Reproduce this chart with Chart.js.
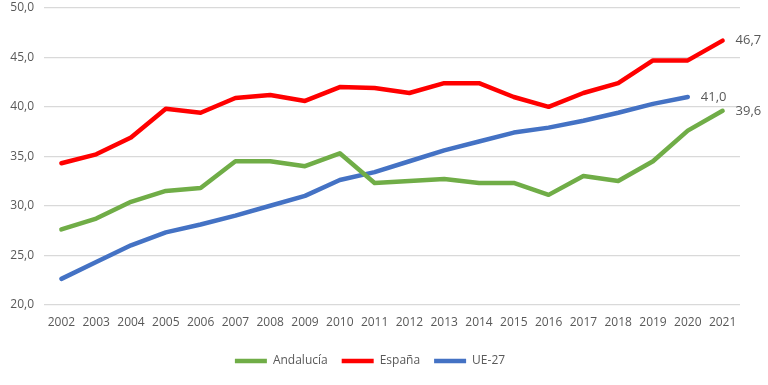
<!DOCTYPE html>
<html>
<head>
<meta charset="utf-8">
<script src="https://cdn.jsdelivr.net/npm/chart.js@4"></script>
<style>
    html, body { margin: 0; padding: 0; background: #ffffff; }
    #wrap { width: 768px; height: 385px; }
</style>
</head>
<body>
<div id="wrap"><canvas id="chart"></canvas></div>
<script>
// Years on the x axis
const years = ["2002", "2003", "2004", "2005", "2006", "2007", "2008", "2009", "2010", "2011",
    "2012", "2013", "2014", "2015", "2016", "2017", "2018", "2019", "2020", "2021"];

// Series values
const andalucia = [27.6, 28.7, 30.4, 31.5, 31.8, 34.5, 34.5, 34.0, 35.3, 32.3,
    32.5, 32.7, 32.3, 32.3, 31.1, 33.0, 32.5, 34.5, 37.6, 39.6];
const espana = [34.3, 35.2, 36.9, 39.8, 39.4, 40.9, 41.2, 40.6, 42.0, 41.9,
    41.4, 42.4, 42.4, 41.0, 40.0, 41.4, 42.4, 44.7, 44.7, 46.7];
const ue27 = [22.6, 24.3, 26.0, 27.3, 28.1, 29.0, 30.0, 31.0, 32.6, 33.4,
    34.5, 35.6, 36.5, 37.4, 37.9, 38.6, 39.4, 40.3, 41.0, null];

// Axis range
const y_min = 20;
const y_max = 50;
const y_step = 5;

const text_colour = "#595959";
const font_family = "'Open Sans', 'Liberation Sans', sans-serif";

// Format numbers the Spanish way: 46,7
function fmt(v) {
    return v.toFixed(1).replace(".", ",");
}

// Writes the value next to the last point of each line
const end_labels = {
    id: "end_labels",
    afterDatasetsDraw(chart) {
        const ctx = chart.ctx;
        ctx.save();
        ctx.font = "13px " + font_family;
        ctx.fillStyle = text_colour;
        ctx.textAlign = "left";
        ctx.textBaseline = "middle";
        chart.data.datasets.forEach((ds, i) => {
            let last = ds.data.length - 1;
            while (last >= 0 && ds.data[last] === null) last--;
            const pt = chart.getDatasetMeta(i).data[last];
            ctx.fillText(fmt(ds.data[last]), pt.x + 13, pt.y);
        });
        ctx.restore();
    }
};

function line_set(label, values, colour) {
    return {
        label: label,
        data: values,
        borderColor: colour,
        backgroundColor: colour,
        borderWidth: 4.5,
        borderCapStyle: "round",
        borderJoinStyle: "round",
        pointRadius: 0,
        pointHoverRadius: 0,
        tension: 0,
        fill: false
    };
}

const config = {
    type: "line",
    data: {
        labels: years,
        datasets: [
            line_set("Andalucía", andalucia, "#70AD47"),
            line_set("España", espana, "#FF0000"),
            line_set("UE-27", ue27, "#4472C4")
        ]
    },
    options: {
        responsive: true,
        maintainAspectRatio: false,
        animation: false,
        layout: {
            padding: { left: 0, right: 28, top: 8, bottom: 8 }
        },
        scales: {
            x: {
                offset: true,
                grid: { display: false, drawTicks: false },
                border: { display: false },
                ticks: {
                    color: text_colour,
                    font: { family: font_family, size: 12 },
                    padding: 11,
                    maxRotation: 0,
                    autoSkip: false
                }
            },
            y: {
                min: y_min,
                max: y_max,
                afterFit: (scale) => {
                    scale.width = 44;
                    scale.paddingTop = 0;
                    scale.paddingBottom = 0;
                },
                grid: { color: "#d9d9d9", lineWidth: 1.2, drawTicks: false },
                border: { display: false },
                ticks: {
                    stepSize: y_step,
                    color: text_colour,
                    font: { family: font_family, size: 12 },
                    padding: 10,
                    callback: (v) => fmt(v)
                }
            }
        },
        plugins: {
            legend: {
                position: "bottom",
                labels: {
                    usePointStyle: true,
                    pointStyle: "line",
                    pointStyleWidth: 32,
                    color: text_colour,
                    font: { family: font_family, size: 12 },
                    padding: 14
                }
            },
            tooltip: { enabled: false }
        }
    },
    plugins: [end_labels]
};

new Chart(document.getElementById("chart").getContext("2d"), config);
</script>
</body>
</html>
